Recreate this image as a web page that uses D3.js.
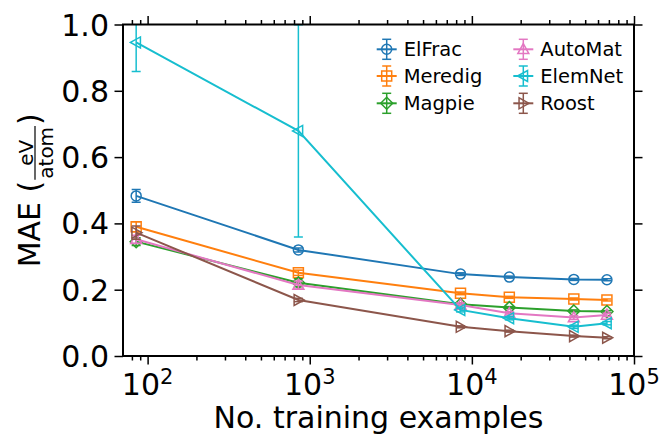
<!DOCTYPE html>
<html>
<head>
<meta charset="utf-8">
<script src="https://cdnjs.cloudflare.com/ajax/libs/d3/7.8.5/d3.min.js"></script>
<style>
  body { margin: 0; background: #fff; }
  text { font-family: "DejaVu Sans", sans-serif; }
</style>
</head>
<body>
<div id="chart"></div>
<script>
// training set sizes
var sizes = [85, 851, 8510, 17020, 42550, 68080];

// model names, colours and markers
var models = ["ElFrac", "Meredig", "Magpie", "AutoMat", "ElemNet", "Roost"];
var colors = ["#1f77b4", "#ff7f0e", "#2ca02c", "#e377c2", "#17becf", "#8c564b"];
var markers = ["circle", "square", "diamond", "triUp", "triLeft", "triRight"];

// MAE values per model
var elfrac  = [0.483, 0.320, 0.247, 0.238, 0.231, 0.230];
var meredig = [0.390, 0.251, 0.189, 0.177, 0.172, 0.169];
var magpie  = [0.345, 0.221, 0.156, 0.146, 0.136, 0.134];
var automat = [0.352, 0.214, 0.154, 0.129, 0.116, 0.124];
var elemnet = [0.946, 0.679, 0.139, 0.114, 0.088, 0.099];
var roost   = [0.372, 0.169, 0.088, 0.075, 0.060, 0.055];

// error bar half widths
var elfracErr  = [0.019, 0.006, 0.004, 0.003, 0.003, 0.003];
var meredigErr = [0.015, 0.008, 0.004, 0.003, 0.003, 0.003];
var magpieErr  = [0.012, 0.012, 0.004, 0.003, 0.003, 0.003];
var automatErr = [0.012, 0.012, 0.006, 0.005, 0.006, 0.005];
var elemnetErr = [0.088, 0.320, 0.006, 0.005, 0.005, 0.005];
var roostErr   = [0.020, 0.005, 0.003, 0.003, 0.003, 0.003];

var values = [elfrac, meredig, magpie, automat, elemnet, roost];
var errors = [elfracErr, meredigErr, magpieErr, automatErr, elemnetErr, roostErr];

var yTicks = [0.0, 0.2, 0.4, 0.6, 0.8, 1.0];
var xTicks = [1e2, 1e3, 1e4, 1e5];

var width = 661, height = 435;
var pLeft = 123, pRight = 634, pTop = 24.5, pBottom = 356;

var svg = d3.select("#chart").append("svg")
    .attr("width", width)
    .attr("height", height);

var x = d3.scaleLog().domain([70.5, 1e5]).range([pLeft, pRight]);
var y = d3.scaleLinear().domain([0, 1]).range([pBottom, pTop]);

svg.append("clipPath").attr("id", "clip")
    .append("rect")
    .attr("x", pLeft).attr("y", pTop)
    .attr("width", pRight - pLeft).attr("height", pBottom - pTop);

// marker paths, centred on 0,0
function markerPath(type, s) {
    var h = s / 2;
    if (type == "circle") return d3.symbol(d3.symbolCircle, Math.PI * h * h)();
    if (type == "square") return "M" + (-h) + "," + (-h) + "H" + h + "V" + h + "H" + (-h) + "Z";
    if (type == "diamond") { var d = h * 1.2; return "M0," + (-d) + "L" + d + ",0L0," + d + "L" + (-d) + ",0Z"; }
    if (type == "triUp") return "M0," + (-h * 1.15) + "L" + (h * 1.1) + "," + (h * 0.85) + "L" + (-h * 1.1) + "," + (h * 0.85) + "Z";
    if (type == "triLeft") return "M" + (-h * 1.15) + ",0L" + (h * 0.85) + "," + (-h * 1.1) + "L" + (h * 0.85) + "," + (h * 1.1) + "Z";
    if (type == "triRight") return "M" + (h * 1.15) + ",0L" + (-h * 0.85) + "," + (-h * 1.1) + "L" + (-h * 0.85) + "," + (h * 1.1) + "Z";
}

var plot = svg.append("g").attr("clip-path", "url(#clip)");
var line = d3.line().x(function (d) { return x(d[0]); }).y(function (d) { return y(d[1]); });

for (var i = 0; i < models.length; i++) {
    var pts = sizes.map(function (s, j) { return [s, values[i][j], errors[i][j]]; });
    var g = plot.append("g");
    var color = colors[i];

    // error bars
    pts.forEach(function (p) {
        var cx = x(p[0]);
        g.append("line")
            .attr("x1", cx).attr("x2", cx)
            .attr("y1", y(p[1] - p[2])).attr("y2", y(p[1] + p[2]))
            .attr("stroke", color).attr("stroke-width", 1.5);
        [p[1] - p[2], p[1] + p[2]].forEach(function (v) {
            g.append("line")
                .attr("x1", cx - 4.5).attr("x2", cx + 4.5)
                .attr("y1", y(v)).attr("y2", y(v))
                .attr("stroke", color).attr("stroke-width", 1.5);
        });
    });

    g.append("path")
        .datum(pts)
        .attr("d", line)
        .attr("fill", "none")
        .attr("stroke", color)
        .attr("stroke-width", 2);

    pts.forEach(function (p) {
        g.append("path")
            .attr("d", markerPath(markers[i], 10))
            .attr("transform", "translate(" + x(p[0]) + "," + y(p[1]) + ")")
            .attr("fill", "none")
            .attr("stroke", color)
            .attr("stroke-width", 1.5);
    });
}

// minor ticks for log axis
var minor = [];
for (var e = 1; e < 5; e++) {
    for (var m = 2; m < 10; m++) {
        var v = m * Math.pow(10, e);
        if (v >= 70.5 && v <= 1e5) minor.push(v);
    }
}

function tickLabel(t) { return ""; }

// bottom axis
svg.append("g")
    .attr("transform", "translate(0," + pBottom + ")")
    .call(d3.axisBottom(x).tickValues(minor).tickSize(4.5).tickFormat(tickLabel));
svg.append("g")
    .attr("transform", "translate(0," + pBottom + ")")
    .call(d3.axisBottom(x).tickValues(xTicks).tickSize(8.5).tickFormat(tickLabel));
// top axis
svg.append("g")
    .attr("transform", "translate(0," + pTop + ")")
    .call(d3.axisTop(x).tickValues(minor).tickSize(4.5).tickFormat(tickLabel));
svg.append("g")
    .attr("transform", "translate(0," + pTop + ")")
    .call(d3.axisTop(x).tickValues(xTicks).tickSize(8.5).tickFormat(tickLabel));
// left axis
svg.append("g")
    .attr("transform", "translate(" + pLeft + ",0)")
    .call(d3.axisLeft(y).tickValues(yTicks).tickSize(8.5).tickFormat(tickLabel));
// right axis
svg.append("g")
    .attr("transform", "translate(" + pRight + ",0)")
    .call(d3.axisRight(y).tickValues(yTicks).tickSize(8.5).tickFormat(tickLabel));

svg.selectAll(".domain").remove();
svg.selectAll(".tick line").attr("stroke", "#000").attr("stroke-width", 1.5);

// frame
svg.append("rect")
    .attr("x", pLeft).attr("y", pTop)
    .attr("width", pRight - pLeft).attr("height", pBottom - pTop)
    .attr("fill", "none").attr("stroke", "#000").attr("stroke-width", 2);

// y tick labels
yTicks.forEach(function (t) {
    svg.append("text")
        .attr("x", pLeft - 14)
        .attr("y", y(t) + 11)
        .attr("text-anchor", "end")
        .attr("font-size", "30px")
        .text(t.toFixed(1));
});

// x tick labels as 10^n
xTicks.forEach(function (t) {
    var lab = svg.append("text")
        .attr("x", x(t))
        .attr("y", pBottom + 39)
        .attr("text-anchor", "middle")
        .attr("font-size", "30px");
    lab.append("tspan").text("10");
    lab.append("tspan")
        .attr("font-size", "21px")
        .attr("dy", -11)
        .text(Math.round(Math.log10(t)));
});

// x axis label
svg.append("text")
    .attr("x", (pLeft + pRight) / 2)
    .attr("y", 428)
    .attr("text-anchor", "middle")
    .attr("font-size", "30px")
    .text("No. training examples");

// y axis label with fraction eV / atom
var yl = svg.append("g").attr("transform", "translate(40," + ((pTop + pBottom) / 2) + ") rotate(-90)");
var t1 = yl.append("text").attr("font-size", "30px").text("MAE (");
var t2 = yl.append("text").attr("font-size", "20px").text("eV");
var t3 = yl.append("text").attr("font-size", "20px").text("atom");
var t4 = yl.append("text").attr("font-size", "30px").text(")");
var w1 = t1.node().getComputedTextLength();
var wNum = t2.node().getComputedTextLength();
var wDen = t3.node().getComputedTextLength();
var wFrac = Math.max(wNum, wDen) + 4;
var w4 = t4.node().getComputedTextLength();
var total = w1 + wFrac + w4;
var x0 = -total / 2;
t1.attr("x", x0).attr("y", 0);
var fc = x0 + w1 + wFrac / 2;
t2.attr("x", fc).attr("y", -7).attr("text-anchor", "middle");
t3.attr("x", fc).attr("y", 13).attr("text-anchor", "middle");
yl.append("line")
    .attr("x1", fc - wFrac / 2 + 1).attr("x2", fc + wFrac / 2 - 1)
    .attr("y1", -5).attr("y2", -5)
    .attr("stroke", "#000").attr("stroke-width", 1.2);
t4.attr("x", x0 + w1 + wFrac).attr("y", 0);

// legend
var legendX = [386.7, 523.3];
var legendY = [49.3, 76, 103.3];
for (var k = 0; k < models.length; k++) {
    var lx = legendX[Math.floor(k / 3)];
    var ly = legendY[k % 3];
    var lg = svg.append("g").attr("transform", "translate(" + lx + "," + ly + ")");
    lg.append("line").attr("x1", -10).attr("x2", 10).attr("y1", 0).attr("y2", 0)
        .attr("stroke", colors[k]).attr("stroke-width", 2);
    lg.append("line").attr("x1", 0).attr("x2", 0).attr("y1", -10).attr("y2", 10)
        .attr("stroke", colors[k]).attr("stroke-width", 1.5);
    [-10, 10].forEach(function (cy) {
        lg.append("line").attr("x1", -4.5).attr("x2", 4.5).attr("y1", cy).attr("y2", cy)
            .attr("stroke", colors[k]).attr("stroke-width", 1.5);
    });
    lg.append("path").attr("d", markerPath(markers[k], 10))
        .attr("fill", "none").attr("stroke", colors[k]).attr("stroke-width", 1.5);
    lg.append("text")
        .attr("x", 17)
        .attr("y", 7)
        .attr("font-size", "19.5px")
        .text(models[k]);
}
</script>
</body>
</html>
